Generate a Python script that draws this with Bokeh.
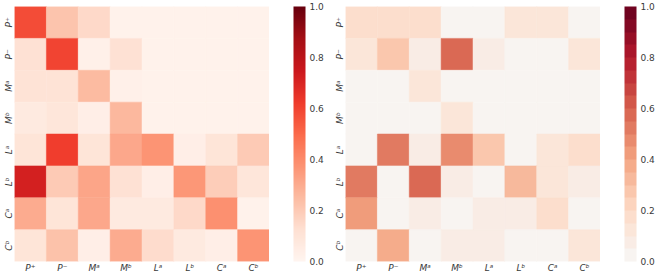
from bokeh.plotting import figure
from bokeh.layouts import row
from bokeh.models import (ColumnDataSource, LinearColorMapper, ColorBar, FixedTicker,
                          PrintfTickFormatter)
from bokeh.palettes import Reds256
from bokeh.embed import file_html
from bokeh.resources import INLINE

# Row/column labels of the two attention-style matrices
labels = ["P⁺", "P⁻", "Mᵃ", "Mᵇ", "Lᵃ", "Lᵇ", "Cᵃ", "Cᵇ"]

# Left matrix (one list per row, columns in the order of `labels`)
left_rows = [
    [0.58, 0.22, 0.15, 0.02, 0.02, 0.02, 0.02, 0.02],
    [0.12, 0.60, 0.03, 0.12, 0.02, 0.02, 0.02, 0.02],
    [0.11, 0.11, 0.25, 0.03, 0.02, 0.02, 0.02, 0.02],
    [0.07, 0.09, 0.04, 0.26, 0.02, 0.02, 0.02, 0.02],
    [0.10, 0.62, 0.10, 0.31, 0.37, 0.04, 0.10, 0.20],
    [0.72, 0.20, 0.32, 0.12, 0.04, 0.36, 0.19, 0.09],
    [0.30, 0.10, 0.31, 0.07, 0.07, 0.15, 0.38, 0.02],
    [0.10, 0.23, 0.04, 0.30, 0.14, 0.07, 0.04, 0.37],
]

# Right matrix
right_rows = [
    [0.17, 0.17, 0.17, 0.02, 0.02, 0.14, 0.14, 0.02],
    [0.13, 0.30, 0.05, 0.58, 0.09, 0.02, 0.02, 0.10],
    [0.02, 0.02, 0.14, 0.02, 0.02, 0.02, 0.02, 0.02],
    [0.02, 0.02, 0.02, 0.14, 0.02, 0.02, 0.02, 0.02],
    [0.02, 0.52, 0.08, 0.47, 0.30, 0.02, 0.10, 0.16],
    [0.52, 0.02, 0.55, 0.09, 0.03, 0.32, 0.15, 0.08],
    [0.43, 0.02, 0.08, 0.03, 0.08, 0.08, 0.16, 0.02],
    [0.03, 0.37, 0.03, 0.09, 0.09, 0.02, 0.02, 0.10],
]

cbar_ticks = [0.0, 0.2, 0.4, 0.6, 0.8, 1.0]

TEXT = "#3a3a3a"
FONT = "DejaVu Sans"
FRAME = 255
TOP, BOTTOM = 6, 12


def hex_to_rgb(h):
    h = h.lstrip("#")
    return tuple(int(h[i:i + 2], 16) for i in (0, 2, 4))


def stepped_diverging_upper(n):
    # upper (warm) half of a red/blue diverging map, sampled in n flat steps
    anchors = ["#f7f7f7", "#fddbc7", "#f4a582", "#d6604d", "#b2182b", "#67001f"]
    rgb = [hex_to_rgb(a) for a in anchors]
    out = []
    for k in range(n):
        t = (k + 0.5) / n * (len(anchors) - 1)
        i = min(int(t), len(anchors) - 2)
        f = t - i
        c = [round(rgb[i][j] + (rgb[i + 1][j] - rgb[i][j]) * f) for j in range(3)]
        out.append("#%02x%02x%02x" % tuple(c))
    return out


def heatmap(rows, mapper):
    xs, ys, vs = [], [], []
    for r, vals in zip(labels, rows):
        for c, v in zip(labels, vals):
            xs.append(c)
            ys.append(r)
            vs.append(v)
    src = ColumnDataSource(dict(x=xs, y=ys, v=vs))

    p = figure(x_range=labels, y_range=list(reversed(labels)),
               frame_width=FRAME, frame_height=FRAME,
               min_border_left=13, min_border_top=TOP, min_border_bottom=BOTTOM,
               min_border_right=0,
               output_backend="svg", toolbar_location=None, tools="")
    p.rect(x="x", y="y", width=1, height=1, source=src,
           fill_color={"field": "v", "transform": mapper},
           line_color={"field": "v", "transform": mapper}, line_width=0.5)

    p.outline_line_color = None
    p.grid.grid_line_color = None
    for ax in (p.xaxis, p.yaxis):
        ax.axis_line_color = None
        ax.major_tick_line_color = None
        ax.minor_tick_line_color = None
        ax.major_tick_out = 0
        ax.major_tick_in = 0
        ax.major_label_text_font = FONT
        ax.major_label_text_font_style = "italic"
        ax.major_label_text_font_size = "9px"
        ax.major_label_text_color = TEXT
        ax.major_label_standoff = 1
    p.yaxis.major_label_orientation = "vertical"
    return p


def colorbar_panel(mapper, width):
    # narrow companion figure that only carries the colour bar
    q = figure(frame_width=width, frame_height=FRAME,
               min_border_left=0, min_border_right=0,
               min_border_top=TOP, min_border_bottom=BOTTOM,
               x_axis_location=None, y_axis_location=None,
               output_backend="svg", toolbar_location=None, tools="")
    q.outline_line_color = None
    q.grid.grid_line_color = None
    cb = ColorBar(color_mapper=mapper, width=12, height=FRAME,
                  ticker=FixedTicker(ticks=cbar_ticks),
                  formatter=PrintfTickFormatter(format="%.1f"),
                  major_tick_line_color=None, minor_tick_line_color=None,
                  bar_line_color=None, border_line_color=None,
                  background_fill_color=None,
                  major_label_text_font=FONT, major_label_text_font_size="9px",
                  major_label_text_color=TEXT, label_standoff=4,
                  padding=0, margin=0, location=(24, 0))
    q.add_layout(cb, "center")
    return q


left_mapper = LinearColorMapper(palette=list(reversed(Reds256)), low=0.0, high=1.0)
right_mapper = LinearColorMapper(palette=stepped_diverging_upper(20), low=0.0, high=1.0)

p1 = heatmap(left_rows, left_mapper)
c1 = colorbar_panel(left_mapper, 62)
p2 = heatmap(right_rows, right_mapper)
c2 = colorbar_panel(right_mapper, 57)

p = row(p1, c1, p2, c2)
open("out.html", "w").write(file_html(p, INLINE))
